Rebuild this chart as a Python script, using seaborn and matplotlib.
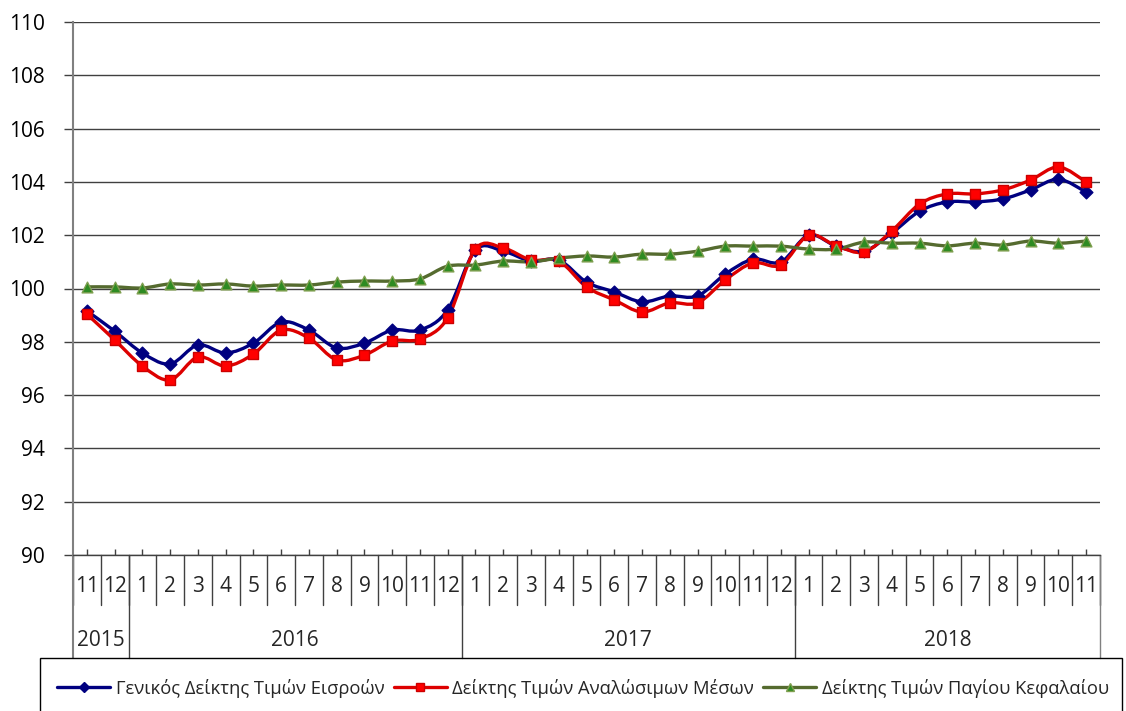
import numpy as np
import pandas as pd
import seaborn as sns
import matplotlib
matplotlib.use("Agg")
import matplotlib.pyplot as plt
from matplotlib.path import Path
from matplotlib.patches import PathPatch, Rectangle
from matplotlib.lines import Line2D
import matplotlib.transforms as mtrans

# ---------------- data ----------------
months = ["11", "12"] + [str(m) for m in range(1, 13)] * 2 + [str(m) for m in range(1, 12)]
years = ["2015", "2016", "2017", "2018"]
year_counts = [2, 12, 12, 11]

series_names = ["Γενικός Δείκτης Τιμών Εισροών",
                "Δείκτης Τιμών Αναλώσιμων Μέσων",
                "Δείκτης Τιμών Παγίου Κεφαλαίου"]

general = [99.16, 98.40, 97.58, 97.17, 97.88, 97.58, 97.95, 98.74, 98.44, 97.77,
           97.95, 98.44, 98.44, 99.20, 101.44, 101.40, 101.03, 101.07, 100.24, 99.87,
           99.50, 99.72, 99.72, 100.54, 101.10, 100.99, 102.00, 101.59, 101.40, 102.08,
           102.90, 103.25, 103.25, 103.36, 103.70, 104.10, 103.62]
consumables = [99.04, 98.07, 97.09, 96.57, 97.43, 97.09, 97.54, 98.44, 98.14, 97.32,
               97.50, 98.03, 98.10, 98.90, 101.48, 101.52, 101.07, 101.03, 100.06, 99.57,
               99.12, 99.46, 99.46, 100.32, 100.96, 100.88, 102.00, 101.60, 101.37, 102.16,
               103.17, 103.55, 103.55, 103.70, 104.07, 104.56, 104.00]
capital = [100.06, 100.06, 100.02, 100.17, 100.13, 100.17, 100.09, 100.13, 100.13, 100.24,
           100.28, 100.28, 100.36, 100.84, 100.88, 101.03, 101.00, 101.14, 101.22, 101.18,
           101.29, 101.29, 101.40, 101.59, 101.59, 101.59, 101.48, 101.48, 101.74, 101.70,
           101.70, 101.60, 101.70, 101.63, 101.78, 101.70, 101.78]

y_ticks = list(range(90, 111, 2))

# ---------------- style ----------------
sns.set_theme(style="white")
plt.rcParams["font.family"] = ["Open Sans", "DejaVu Sans"]

W, H = 1126, 711
fig = plt.figure(figsize=(W / 100, H / 100), dpi=100)
L, R, T, B = 73, 1100, 22, 555
ax = fig.add_axes([L / W, 1 - B / H, (R - L) / W, (B - T) / H])

x = np.arange(len(months))
df = pd.DataFrame({"x": np.tile(x, 3),
                   "value": general + consumables + capital,
                   "series": np.repeat(series_names, len(x))})

styles = {
    series_names[0]: dict(line="#000080", marker="D", face="#000080", edge="#000080", s=42),
    series_names[1]: dict(line="#DD0000", marker="s", face="#FF0000", edge="#CC0000", s=44),
    series_names[2]: dict(line="#556B2F", marker="^", face="#2E8B22", edge="#7F9F4F", s=60),
}


def smooth_path(xs, ys):
    pts = np.column_stack([xs, ys])
    n = len(pts)
    verts = [pts[0]]
    codes = [Path.MOVETO]
    for i in range(n - 1):
        p0 = pts[i - 1] if i > 0 else pts[i]
        p1 = pts[i]
        p2 = pts[i + 1]
        p3 = pts[i + 2] if i + 2 < n else pts[i + 1]
        c1 = p1 + (p2 - p0) / 6.0
        c2 = p2 - (p3 - p1) / 6.0
        verts += [c1, c2, p2]
        codes += [Path.CURVE4] * 3
    return Path(verts, codes)


for name in series_names:
    st = styles[name]
    sub = df[df["series"] == name]
    patch = PathPatch(smooth_path(sub["x"].values, sub["value"].values), fill=False,
                      edgecolor=st["line"], lw=2.4, zorder=3, capstyle="round", joinstyle="round")
    ax.add_patch(patch)
    sns.scatterplot(data=sub, x="x", y="value", marker=st["marker"], s=st["s"],
                    color=st["face"], edgecolor=st["edge"], linewidth=1.0, ax=ax,
                    zorder=4, legend=False)

# axes
ax.set_xlim(-0.5, len(months) - 0.5)
ax.set_ylim(90, 110)
ax.set_yticks(y_ticks)
ax.set_yticklabels([str(t) for t in y_ticks], fontsize=15)
ax.set_xticks(x)
ax.set_xticklabels([])
ax.set_xlabel("")
ax.set_ylabel("")
ax.grid(False)
for t in y_ticks:
    ax.axhline(t, color="#404040", lw=1.0, zorder=1)
ax.tick_params(axis="y", direction="out", length=6.5, width=1, color="#404040",
               pad=14, labelcolor="black", left=True)
ax.tick_params(axis="x", direction="in", length=4, width=1, color="#404040", bottom=True)
for sp in ["top", "right"]:
    ax.spines[sp].set_visible(False)
ax.spines["left"].set_color("#808080")
ax.spines["left"].set_linewidth(1.5)
ax.spines["bottom"].set_color("#404040")
ax.spines["bottom"].set_linewidth(1.0)

# category table below axis
tr = mtrans.blended_transform_factory(ax.transData, ax.transAxes)
ph = B - T
month_bot = -50 / ph
year_bot = -103 / ph
for k in range(len(months) + 1):
    ax.plot([k - 0.5, k - 0.5], [0, month_bot], transform=tr, color="#404040",
            lw=1.0, clip_on=False, zorder=2)
for i, m in enumerate(months):
    ax.text(i, -32 / ph, m, transform=tr, ha="center", va="center", fontsize=15)
bounds = np.concatenate([[0], np.cumsum(year_counts)])
for b in bounds:
    col = "#808080" if b in (0, len(months)) else "#404040"
    ax.plot([b - 0.5, b - 0.5], [0, year_bot], transform=tr, color=col,
            lw=1.5 if b == 0 else 1.0, clip_on=False, zorder=2)
for yname, a, b in zip(years, bounds[:-1], bounds[1:]):
    ax.text((a + b - 1) / 2, -86 / ph, yname, transform=tr, ha="center", va="center",
            fontsize=15)

# legend box
fig.patches.append(Rectangle((40 / W, -0.01), (1122 - 40) / W, 0.01 + (711 - 658) / H,
                             transform=fig.transFigure, fill=False, edgecolor="black",
                             lw=1.0, clip_on=False))
handles = []
for name in series_names:
    st = styles[name]
    handles.append(Line2D([0], [0], color=st["line"], lw=2.4, marker=st["marker"],
                          markersize=5.5, markerfacecolor=st["face"],
                          markeredgecolor=st["edge"]))
fig.legend(handles, series_names, loc="center", bbox_to_anchor=(583 / W, 1 - 688 / H),
           ncol=3, frameon=False, fontsize=13.2, handlelength=2.9, handletextpad=0.3,
           columnspacing=0.5)

fig.savefig("out.png", dpi=100)
